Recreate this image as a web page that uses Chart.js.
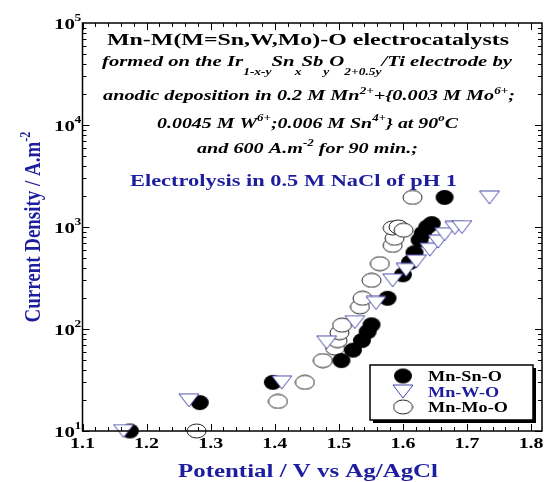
<!DOCTYPE html>
<html>
<head>
<meta charset="utf-8">
<script src="https://cdn.jsdelivr.net/npm/chart.js@4.4.1/dist/chart.umd.min.js"></script>
<style>
  body { margin: 0; background: #fff; }
</style>
</head>
<body>
<canvas id="chart" width="555" height="482"></canvas>
<script>
// values (potential in V vs Ag/AgCl, current density in A/m2)
const potentialSn = [1.174, 1.283, 1.397, 1.504, 1.522, 1.536, 1.545, 1.551, 1.576, 1.600, 1.611, 1.618, 1.626, 1.631, 1.638, 1.645, 1.665];
const currentSn = [10, 19, 30, 49, 62, 77, 94, 110, 200, 340, 450, 560, 745, 870, 1000, 1080, 1950];

const potentialW = [1.164, 1.266, 1.411, 1.481, 1.525, 1.558, 1.584, 1.605, 1.621, 1.642, 1.655, 1.665, 1.681, 1.692, 1.735];
const currentW = [10, 20, 30, 74, 117, 180, 300, 380, 460, 600, 720, 850, 980, 1000, 1950];

const potentialMo = [1.278, 1.405, 1.447, 1.475, 1.494, 1.498, 1.501, 1.505, 1.533, 1.537, 1.551, 1.564, 1.584, 1.587, 1.584, 1.593, 1.601, 1.615];
const currentMo = [10, 19.5, 30, 49, 65, 77, 92, 109, 165, 200, 300, 437, 660, 775, 980, 1000, 930, 1950];

const seriesNames = ["Mn-Sn-O", "Mn-W-O", "Mn-Mo-O"];
const xTickLabels = ["1.1", "1.2", "1.3", "1.4", "1.5", "1.6", "1.7", "1.8"];
const yTickExponents = ["1", "2", "3", "4", "5"];

const BLUE = "#1d1d9f";
const SERIF = "'Liberation Serif', 'DejaVu Serif', serif";

// marker images (the source picture is stretched sideways, so circles are ellipses)
function ellipseMarker(w, h, fill, stroke) {
  const c = document.createElement("canvas");
  c.width = w; c.height = h;
  const g = c.getContext("2d");
  g.beginPath();
  g.ellipse(w / 2, h / 2, w / 2 - 1, h / 2 - 1, 0, 0, Math.PI * 2);
  g.fillStyle = fill;
  g.fill();
  if (stroke) { g.strokeStyle = stroke; g.lineWidth = 1; g.stroke(); }
  return c;
}
function triangleMarker(w, h, stroke) {
  const c = document.createElement("canvas");
  c.width = w; c.height = h;
  const g = c.getContext("2d");
  g.beginPath();
  g.moveTo(1, 1); g.lineTo(w - 1, 1); g.lineTo(w / 2, h - 1); g.closePath();
  g.fillStyle = "#fff"; g.fill();
  g.strokeStyle = stroke; g.lineWidth = 1; g.stroke();
  return c;
}
const markerSn = ellipseMarker(20, 17, "#000", null);
const markerW = triangleMarker(22, 15, "#4646a8");
const markerMo = ellipseMarker(21, 16, "#fff", "#222");

function toPoints(xs, ys) {
  return xs.map((x, i) => ({ x: x, y: ys[i] }));
}

// text with sub/superscripts, squeezed or stretched to a given width
// parts: [text, mode] with mode 0 normal, 1 superscript, -1 subscript
function richText(ctx, parts, cx, base, size, style, color, width) {
  const fontFor = (m) => `${style} ${m === 0 ? size : size * 0.65}px ${SERIF}`;
  let total = 0;
  parts.forEach(([t, m]) => { ctx.font = fontFor(m); total += ctx.measureText(t).width; });
  const sx = width / total;
  ctx.save();
  ctx.translate(cx - width / 2, base);
  ctx.scale(sx, 1);
  ctx.fillStyle = color;
  ctx.textAlign = "left";
  ctx.textBaseline = "alphabetic";
  let x = 0;
  parts.forEach(([t, m]) => {
    ctx.font = fontFor(m);
    const dy = m === 1 ? -size * 0.42 : m === -1 ? size * 0.6 : 0;
    ctx.fillText(t, x, dy);
    x += ctx.measureText(t).width;
  });
  ctx.restore();
}

const decorPlugin = {
  id: "decor",
  afterDraw(chart) {
    const { ctx, chartArea: a, scales } = chart;
    const xs = scales.x, ys = scales.y;
    ctx.save();

    // frame
    ctx.strokeStyle = "#000";
    ctx.lineWidth = 1.5;
    ctx.strokeRect(a.left, a.top, a.right - a.left, a.bottom - a.top);

    // inward ticks on all four sides
    ctx.lineWidth = 1;
    ctx.beginPath();
    for (let v = 110; v <= 181; v += 2) {
      const px = Math.round(xs.getPixelForValue(v / 100)) + 0.5;
      const len = v % 10 === 0 ? 7 : 4;
      ctx.moveTo(px, a.bottom); ctx.lineTo(px, a.bottom - len);
      ctx.moveTo(px, a.top); ctx.lineTo(px, a.top + len);
    }
    for (let d = 1; d <= 4; d++) {
      for (let m = 1; m <= 9; m++) {
        const py = Math.round(ys.getPixelForValue(m * Math.pow(10, d))) + 0.5;
        const len = m === 1 ? 7 : 4;
        ctx.moveTo(a.left, py); ctx.lineTo(a.left + len, py);
        ctx.moveTo(a.right, py); ctx.lineTo(a.right - len, py);
      }
    }
    ctx.stroke();

    // x tick labels
    ctx.fillStyle = "#000";
    xTickLabels.forEach((lab) => {
      const px = xs.getPixelForValue(parseFloat(lab));
      ctx.save();
      ctx.translate(px, a.bottom + 17);
      ctx.scale(1.33, 1);
      ctx.font = `bold 15px ${SERIF}`;
      ctx.textAlign = "center";
      ctx.fillText(lab, 0, 0);
      ctx.restore();
    });

    // y tick labels 10^n
    yTickExponents.forEach((e) => {
      const py = ys.getPixelForValue(Math.pow(10, parseInt(e)));
      ctx.save();
      ctx.translate(75, py + 5.6);
      ctx.scale(1.35, 1);
      ctx.font = `bold 15.5px ${SERIF}`;
      ctx.textAlign = "right";
      ctx.fillText("10", 0, 0);
      ctx.font = `bold 10px ${SERIF}`;
      ctx.textAlign = "left";
      ctx.fillText(e, -0.4, -7.3);
      ctx.restore();
    });

    // axis titles
    richText(ctx, [["Potential / V vs Ag/AgCl", 0]], 308, 477, 19, "bold", BLUE, 260);
    ctx.save();
    ctx.translate(40, 227);
    ctx.rotate(-Math.PI / 2);
    ctx.scale(1, 1.3);
    richText(ctx, [["Current Density / A.m", 0], ["-2", 1]], 0, 0, 17.5, "bold", BLUE, 191);
    ctx.restore();

    // text block
    richText(ctx, [["Mn-M(M=Sn,W,Mo)-O electrocatalysts", 0]], 308, 45, 17.5, "bold", "#000", 402);
    richText(ctx, [["formed on the Ir", 0], ["1-x-y", -1], ["Sn", 0], ["x", -1], ["Sb", 0], ["y", -1],
      ["O", 0], ["2+0.5y", -1], ["/Ti electrode by", 0]], 307, 66, 15, "bold italic", "#000", 410);
    richText(ctx, [["anodic deposition in 0.2 M Mn", 0], ["2+", 1], ["+{0.003 M Mo", 0], ["6+", 1], [";", 0]],
      309, 100, 15, "bold italic", "#000", 412);
    richText(ctx, [["0.0045 M W", 0], ["6+", 1], [";0.006 M Sn", 0], ["4+", 1], ["} at 90", 0], ["o", 1], ["C", 0]],
      307.5, 127.5, 15, "bold italic", "#000", 301);
    richText(ctx, [["and 600 A.m", 0], ["-2", 1], [" for 90 min.;", 0]], 307.5, 152.5, 15, "bold italic", "#000", 221);
    richText(ctx, [["Electrolysis in 0.5 M NaCl of pH 1", 0]], 293.5, 185.5, 17.5, "bold", BLUE, 327);

    // legend box with shadow
    const bx = 370, by = 365, bw = 163, bh = 55;
    ctx.fillStyle = "#000";
    ctx.fillRect(bx + 3, by + 3, bw, bh);
    ctx.fillStyle = "#fff";
    ctx.fillRect(bx, by, bw, bh);
    ctx.lineWidth = 1.5;
    ctx.strokeStyle = "#000";
    ctx.strokeRect(bx, by, bw, bh);
    const markers = [markerSn, markerW, markerMo];
    const colors = ["#000", BLUE, "#000"];
    seriesNames.forEach((name, i) => {
      const ry = 376 + i * 15.5;
      const m = markers[i];
      ctx.drawImage(m, 403 - m.width / 2, ry - m.height / 2);
      ctx.save();
      ctx.translate(428, ry + 5);
      ctx.scale(1.3, 1);
      ctx.font = `bold 14px ${SERIF}`;
      ctx.fillStyle = colors[i];
      ctx.textAlign = "left";
      ctx.fillText(name, 0, 0);
      ctx.restore();
    });

    ctx.restore();
  }
};

new Chart(document.getElementById("chart"), {
  type: "scatter",
  data: {
    datasets: [
      { label: seriesNames[0], data: toPoints(potentialSn, currentSn), pointStyle: markerSn, pointRadius: 8, order: 1, clip: false },
      { label: seriesNames[1], data: toPoints(potentialW, currentW), pointStyle: markerW, pointRadius: 8, order: 0, clip: false },
      { label: seriesNames[2], data: toPoints(potentialMo, currentMo), pointStyle: markerMo, pointRadius: 8, order: 2, clip: false },
    ],
  },
  options: {
    responsive: false,
    animation: false,
    devicePixelRatio: 1,
    layout: { padding: { left: 0, top: 23, right: 13, bottom: 0 } },
    plugins: { legend: { display: false }, tooltip: { enabled: false } },
    scales: {
      x: {
        type: "linear",
        min: 1.1,
        max: 1.817,
        grid: { display: false },
        border: { display: false },
        ticks: { display: false },
        afterFit: (s) => { s.height = 51; },
      },
      y: {
        type: "logarithmic",
        min: 10,
        max: 100000,
        grid: { display: false },
        border: { display: false },
        ticks: { display: false },
        afterFit: (s) => { s.width = 82.5; },
      },
    },
  },
  plugins: [decorPlugin],
});
</script>
</body>
</html>
